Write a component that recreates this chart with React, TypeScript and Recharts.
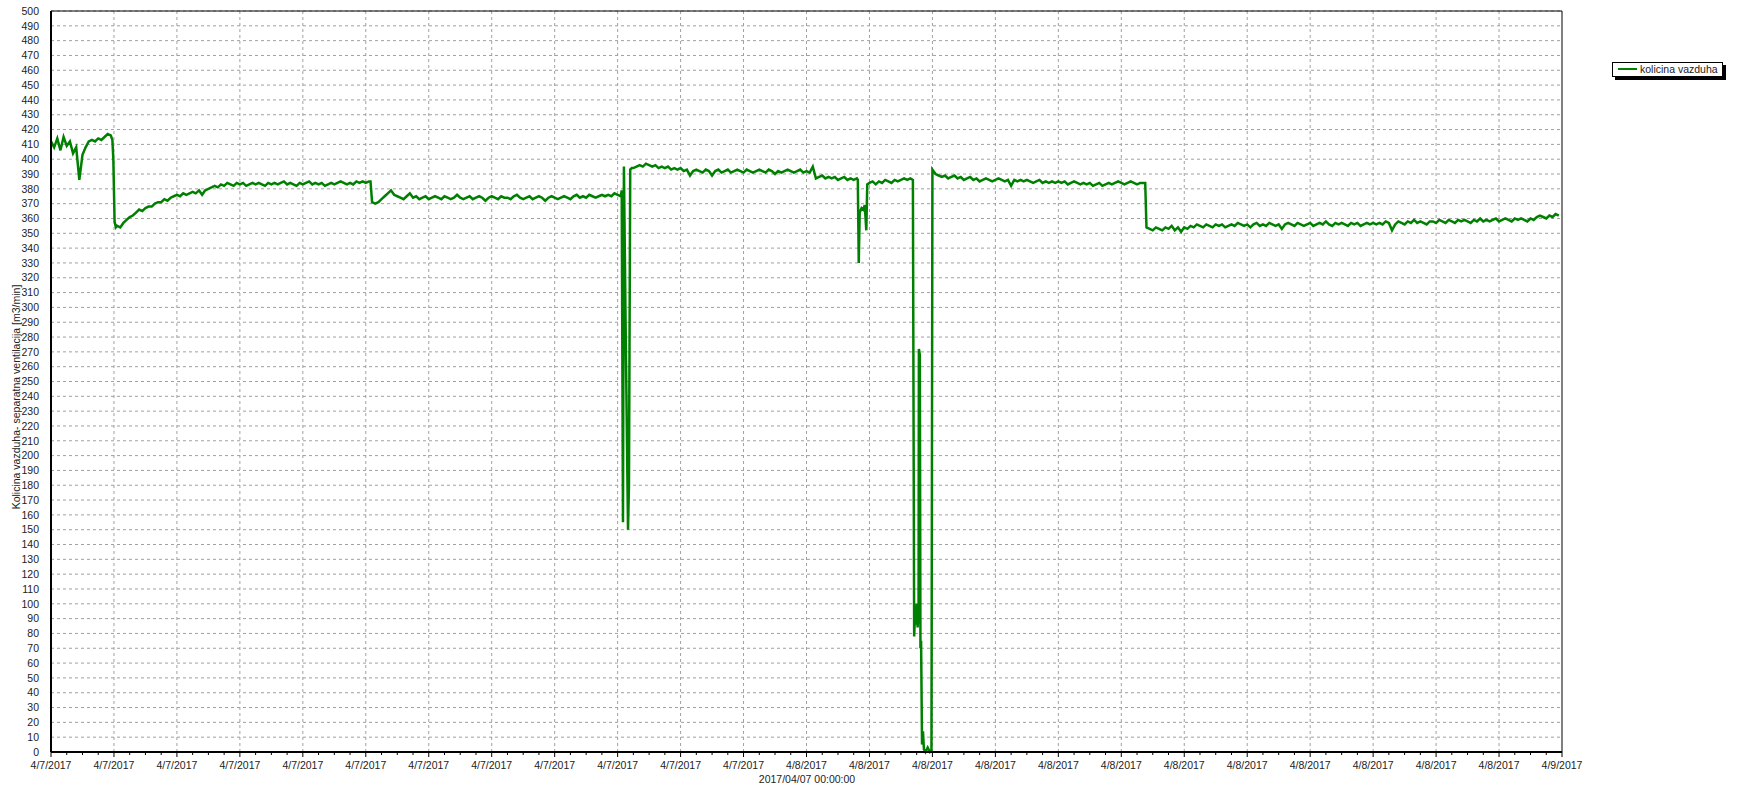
import { CartesianGrid, Line, LineChart, ReferenceLine, XAxis, YAxis } from 'recharts'

// kolicina vazduha [m3/min], regular samples every 0.1 h (6 min)
const STEP = 0.1

// 0.0 h .. 1.9 h
const segStart = [
	412, 408, 414, 406, 415, 409, 412, 404, 408, 386,
	403, 408, 412, 413, 412, 414, 413, 415, 417, 416,
]

// 2.1 h .. 10.1 h
const segRecovery = [
	355, 354, 357, 359, 361, 362, 364, 366, 365, 367,
	368, 368, 370, 371, 371, 373, 372, 374, 375, 376,
	375, 377, 376, 377, 378, 377, 379, 376, 379, 380,
	381, 382, 381, 383, 382, 384, 383, 382, 384, 383,
	384, 382, 383, 384, 383, 384, 383, 382, 384, 383,
	384, 383, 384, 385, 383, 384, 383, 382, 384, 383,
	384, 385, 383, 384, 383, 384, 382, 383, 384, 383,
	384, 385, 384, 383, 384, 383, 385, 384, 385, 384,
	385,
]

// 10.3 h .. 18.1 h
const segMorning = [
	370, 371, 373, 375, 377, 379, 376, 375, 374, 373,
	375, 377, 374, 375, 373, 374, 375, 373, 374, 375,
	374, 373, 375, 374, 373, 374, 376, 374, 373, 374,
	375, 373, 374, 375, 374, 372, 374, 375, 374, 373,
	375, 374, 374, 373, 375, 376, 374, 373, 374, 375,
	373, 374, 375, 374, 372, 374, 375, 374, 373, 374,
	375, 374, 373, 375, 376, 374, 375, 374, 376, 375,
	374, 375, 376, 375, 376, 375, 377, 376, 375,
]

// 18.5 h .. 25.6 h
const segEvening = [
	394, 395, 396, 395, 397, 396, 395, 396, 394, 395,
	394, 395, 393, 394, 393, 394, 392, 393, 389, 392,
	393, 392, 391, 393, 392, 389, 392, 393, 391, 392,
	393, 391, 392, 393, 392, 391, 393, 392, 391, 392,
	393, 392, 391, 393, 392, 390, 392, 391, 392, 393,
	392, 391, 392, 393, 391, 392, 391, 395, 387, 388,
	389, 387, 388, 387, 388, 386, 387, 388, 386, 387,
	386, 387,
]

// 26.0 h .. 27.3 h
const segNight = [384, 385, 383, 385, 384, 386, 385, 384, 386, 385, 386, 387, 386, 387]

// 28.1 h .. 34.7 h
const segRestart = [
	390, 389, 388, 389, 387, 388, 389, 387, 388, 386,
	387, 388, 386, 387, 385, 386, 387, 386, 385, 386,
	387, 386, 385, 386, 382, 386, 385, 386, 385, 386,
	385, 384, 385, 386, 384, 385, 384, 385, 384, 385,
	384, 385, 383, 384, 385, 384, 383, 384, 383, 384,
	382, 383, 384, 382, 383, 384, 383, 384, 385, 384,
	383, 384, 385, 384, 383, 384, 384,
]

// 34.9 h .. 47.9 h
const segLow = [
	353, 352, 354, 353, 352, 354, 353, 355, 352, 354,
	351, 354, 353, 355, 354, 356, 355, 354, 356, 355,
	354, 356, 355, 356, 354, 355, 356, 355, 357, 356,
	355, 356, 354, 356, 357, 355, 356, 355, 357, 356,
	355, 356, 353, 356, 357, 356, 355, 357, 356, 355,
	356, 357, 355, 356, 357, 356, 358, 356, 355, 357,
	356, 357, 356, 355, 357, 356, 357, 355, 356, 357,
	356, 357, 356, 357, 356, 358, 357, 352, 356, 358,
	357, 356, 358, 357, 359, 357, 358, 357, 356, 358,
	358, 357, 359, 358, 357, 359, 358, 357, 359, 358,
	359, 358, 357, 359, 358, 360, 358, 359, 358, 359,
	360, 358, 359, 360, 359, 358, 360, 359, 360, 359,
	358, 360, 359, 361, 362, 361, 360, 362, 361, 363,
	362,
]

// fast events between the regular segments: [hour, value]
const dropAt2h = [[1.95, 413], [1.98, 400], [2.02, 358], [2.06, 354]]
const stepAt10h = [[10.15, 385], [10.2, 371]]
const spikeAt18h = [
	[18.13, 379], [18.17, 155], [18.2, 395], [18.25, 295], [18.33, 150],
	[18.36, 180], [18.4, 393], [18.45, 394],
]
const dipAt25h = [
	[25.63, 386], [25.66, 330], [25.69, 364], [25.75, 367], [25.8, 366],
	[25.85, 369], [25.9, 352], [25.93, 383],
]
const outageAt27h = [
	[27.38, 386], [27.42, 78], [27.45, 94], [27.48, 86], [27.5, 100],
	[27.53, 84], [27.56, 95], [27.57, 272], [27.6, 268], [27.62, 70],
	[27.64, 75], [27.67, 5], [27.7, 14], [27.73, 2], [27.78, 0],
	[27.85, 3], [27.92, 0], [27.97, 1], [28.0, 393],
]
const stepAt34h = [[34.76, 384], [34.8, 354]]

const segments: [number, number[]][] = [
	[0, segStart],
	[2.1, segRecovery],
	[10.3, segMorning],
	[18.5, segEvening],
	[26.0, segNight],
	[28.1, segRestart],
	[34.9, segLow],
]
const events = [...dropAt2h, ...stepAt10h, ...spikeAt18h, ...dipAt25h, ...outageAt27h, ...stepAt34h]

const data = [
	...segments.flatMap(([start, vals]) =>
		vals.map((v, i) => ({ t: Math.round((start + i * STEP) * 100) / 100, v }))
	),
	...events.map(([t, v]) => ({ t, v })),
].sort((a, b) => a.t - b.t)

const xLabels = [
	'4/7/2017', '4/7/2017', '4/7/2017', '4/7/2017', '4/7/2017', '4/7/2017',
	'4/7/2017', '4/7/2017', '4/7/2017', '4/7/2017', '4/7/2017', '4/7/2017',
	'4/8/2017', '4/8/2017', '4/8/2017', '4/8/2017', '4/8/2017', '4/8/2017',
	'4/8/2017', '4/8/2017', '4/8/2017', '4/8/2017', '4/8/2017', '4/8/2017',
	'4/9/2017',
]
const majorTicks = xLabels.map((_, i) => i * 2)
const allTicks = majorTicks.flatMap((t, i) => (i < majorTicks.length - 1 ? [t, t + 0.5, t + 1, t + 1.5] : [t]))

const yTicks = [
	0, 10, 20, 30, 40, 50, 60, 70, 80, 90, 100, 110, 120, 130, 140, 150, 160, 170, 180, 190,
	200, 210, 220, 230, 240, 250, 260, 270, 280, 290, 300, 310, 320, 330, 340, 350, 360, 370,
	380, 390, 400, 410, 420, 430, 440, 450, 460, 470, 480, 490, 500,
]

const FONT = '"Liberation Sans", Arial, sans-serif'
const GREEN = '#008000'

const XTick = ({ x, y, payload }: any) => {
	const t = payload.value
	const major = t % 2 === 0
	return (
		<g>
			<line x1={x} x2={x} y1={y} y2={y + (major ? 5 : 3)} stroke='#000' />
			{major && (
				<text x={x} y={y + 17} textAnchor='middle' fontSize={10.5} fontFamily={FONT} fill='#222'>
					{xLabels[t / 2]}
				</text>
			)}
		</g>
	)
}

export default function App() {
	return (
		<div style={{ position: 'absolute', left: 0, top: 0, width: 1739, height: 789, background: '#fff' }}>
			<LineChart
				width={1739}
				height={789}
				data={data}
				margin={{ top: 11, right: 177, bottom: 0, left: 0 }}
			>
				<CartesianGrid stroke='#a0a0a0' strokeDasharray='3 3' vertical={false} />
				{majorTicks.slice(1, -1).map((t) => (
					<ReferenceLine key={t} x={t} stroke='#a0a0a0' strokeDasharray='3 3' />
				))}
				<XAxis
					dataKey='t'
					type='number'
					domain={[0, 48]}
					ticks={allTicks}
					interval={0}
					tick={<XTick />}
					tickLine={false}
					tickSize={0}
					tickMargin={0}
					height={37}
					axisLine={{ stroke: '#000', strokeWidth: 2 }}
				/>
				<YAxis
					type='number'
					domain={[0, 500]}
					ticks={yTicks}
					interval={0}
					width={51}
					tickLine={false}
					tickMargin={6}
					tick={{ fontSize: 10.5, fontFamily: FONT, fill: '#222' }}
					axisLine={{ stroke: '#000', strokeWidth: 2 }}
				/>
				<ReferenceLine y={500} stroke='#000' />
				<ReferenceLine x={48} stroke='#000' />
				<Line
					type='linear'
					dataKey='v'
					stroke={GREEN}
					strokeWidth={2.5}
					strokeLinejoin='miter'
					dot={false}
					isAnimationActive={false}
				/>
			</LineChart>
			<div
				style={{
					position: 'absolute',
					left: 16,
					top: 397,
					transform: 'translate(-50%, -50%) rotate(-90deg)',
					whiteSpace: 'nowrap',
					fontFamily: FONT,
					fontSize: 10.5,
					color: '#222',
				}}
			>
				Kolicina vazduha- separatna ventilacija [m3/min]
			</div>
			<div
				style={{
					position: 'absolute',
					left: 807,
					top: 773,
					transform: 'translateX(-50%)',
					whiteSpace: 'nowrap',
					fontFamily: FONT,
					fontSize: 10.5,
					color: '#222',
				}}
			>
				2017/04/07 00:00:00
			</div>
			<div
				style={{
					position: 'absolute',
					left: 1612,
					top: 62,
					width: 111,
					height: 15,
					boxSizing: 'border-box',
					border: '1px solid #000',
					background: '#fff',
					boxShadow: '3px 3px 0 #000',
					fontFamily: FONT,
					fontSize: 10.5,
					color: '#222',
				}}
			>
				<div style={{ position: 'absolute', left: 5, top: 5, width: 19, height: 2, background: GREEN }} />
				<div style={{ position: 'absolute', left: 27, top: 0, lineHeight: '13px' }}>kolicina vazduha</div>
			</div>
		</div>
	)
}
